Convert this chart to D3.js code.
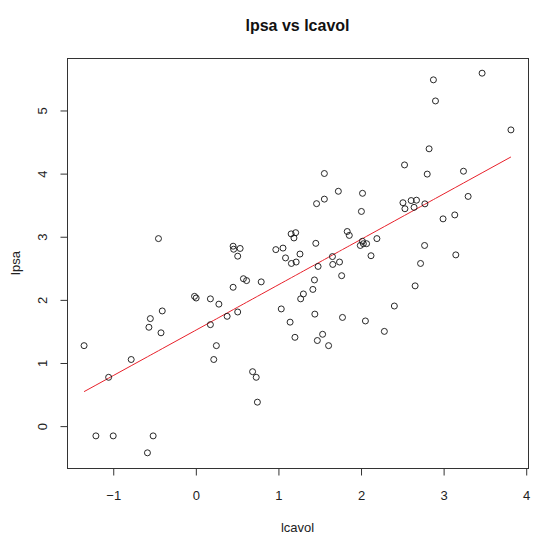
<!DOCTYPE html>
<html>
<head>
<meta charset="utf-8">
<script src="https://cdn.jsdelivr.net/npm/d3@7"></script>
<style>
  body { margin: 0; background: #fff; }
  svg { display: block; font-family: "Liberation Sans", Arial, sans-serif; }
</style>
</head>
<body>
<div id="chart"></div>
<script>
// prostate data: log cancer volume vs log PSA
var lcavol = [-0.5798185, -0.9942523, -0.5108256, -1.2039728, 0.7514161, -1.0498221, 0.7371641, 0.6931472,
  -0.7765288, 0.2231436, 0.2546422, -1.3470736, 1.6134299, 1.4770487, 1.2059708, 1.5411591, -0.4155154,
  2.2884862, -0.5621189, 0.1823216, 1.1474025, 2.0592388, -0.5447272, 1.7817406, 0.3852624, 1.4469190,
  0.5128236, -0.4004776, 1.0402767, 2.4096442, 0.2851789, 0.1823216, 1.2753628, 0.0099503, -0.0100503,
  1.3083328, 1.4231083, 0.4574248, 2.6609384, 0.7975072, 0.6205765, 1.4422817, 0.5822157, 1.7714984,
  1.4861397, 1.6639261, 2.7269180, 1.1631508, 1.7457155, 1.2208299, 1.0919233, 1.6601310, 0.5128236,
  2.1270408, 3.1535904, 1.2669476, 0.9745596, 0.4637340, 0.5423243, 1.0612565, 0.4574248, 1.9974177,
  2.7757088, 2.0347056, 2.0731719, 1.4586150, 2.0228712, 2.1983351, -0.4462871, 1.1939225, 1.8640801,
  1.1600209, 1.2149127, 1.8389611, 2.9992262, 3.1411305, 2.0108950, 2.5376572, 2.6483002, 2.7794402,
  1.4678743, 2.5136561, 2.6130067, 2.6775910, 1.5623463, 3.3028493, 2.0241931, 1.7316555, 2.8075938,
  1.5623463, 3.2464910, 2.5329028, 2.8302678, 3.8210131, 2.9074474, 2.8825636, 3.4719665];
var lpsa = [-0.4307829, -0.1625189, -0.1625189, -0.1625189, 0.3715636, 0.7654678, 0.7654678, 0.8544153,
  1.0473190, 1.0473190, 1.2669476, 1.2669476, 1.2669476, 1.3480731, 1.3987169, 1.4469190, 1.4701758,
  1.4929041, 1.5581446, 1.5993876, 1.6389967, 1.6582281, 1.6956156, 1.7137979, 1.7316555, 1.7664417,
  1.8000583, 1.8164521, 1.8484548, 1.8946169, 1.9242487, 2.0082140, 2.0082140, 2.0215476, 2.0476928,
  2.0856721, 2.1575593, 2.1916535, 2.2137539, 2.2772673, 2.2975726, 2.3075726, 2.3272777, 2.3749058,
  2.5217206, 2.5533438, 2.5687881, 2.5687881, 2.5915164, 2.5915164, 2.6567569, 2.6775910, 2.6844403,
  2.6912431, 2.7047113, 2.7180005, 2.7880929, 2.7942279, 2.8063861, 2.8124102, 2.8419982, 2.8535925,
  2.8535925, 2.8820035, 2.8820035, 2.8875901, 2.9204698, 2.9626924, 2.9626924, 2.9729753, 3.0130809,
  3.0373539, 3.0563569, 3.0750055, 3.2752562, 3.3375474, 3.3928291, 3.4355988, 3.4578927, 3.5130369,
  3.5160131, 3.5307626, 3.5652984, 3.5709402, 3.5876769, 3.6309855, 3.6800909, 3.7123518, 3.9843437,
  3.9936030, 4.0298060, 4.1295508, 4.3851468, 4.6844434, 5.1431245, 5.4775090, 5.5829322];
var xTicks = [-1, 0, 1, 2, 3, 4];
var yTicks = [0, 1, 2, 3, 4, 5];

var width = 560, height = 553;
var box = { left: 67, right: 528, top: 58, bottom: 468 };

var svg = d3.select('#chart').append('svg')
  .attr('width', width)
  .attr('height', height);

// R style ranges: data extent padded 4% each side
function pad(ext) {
  var d = (ext[1] - ext[0]) * 0.04;
  return [ext[0] - d, ext[1] + d];
}
var x = d3.scaleLinear().domain(pad(d3.extent(lcavol))).range([box.left, box.right]);
var y = d3.scaleLinear().domain(pad(d3.extent(lpsa))).range([box.bottom, box.top]);

var pts = lcavol.map(function(v, i) { return { x: v, y: lpsa[i] }; });

// least squares fit lpsa ~ lcavol
var mx = d3.mean(lcavol), my = d3.mean(lpsa);
var sxy = d3.sum(pts, function(d) { return (d.x - mx) * (d.y - my); });
var sxx = d3.sum(pts, function(d) { return (d.x - mx) * (d.x - mx); });
var slope = sxy / sxx, intercept = my - slope * mx;
var fitted = pts.slice().sort(function(a, b) { return a.x - b.x; })
  .map(function(d) { return { x: d.x, y: intercept + slope * d.x }; });

svg.append('rect')
  .attr('x', box.left + 0.5)
  .attr('y', box.top + 0.5)
  .attr('width', box.right - box.left)
  .attr('height', box.bottom - box.top)
  .attr('fill', 'none')
  .attr('stroke', '#333');

var xAxis = svg.append('g')
  .attr('transform', 'translate(0.5,' + (box.bottom + 0.5) + ')')
  .call(d3.axisBottom(x).tickValues(xTicks).tickSize(7).tickPadding(15).tickFormat(d3.format('d')));
xAxis.select('.domain').attr('d', 'M' + x(-1) + ',0H' + x(4));

var yAxis = svg.append('g')
  .attr('transform', 'translate(' + (box.left + 0.5) + ',0.5)')
  .call(d3.axisLeft(y).tickValues(yTicks).tickSize(7).tickFormat(d3.format('d')));
yAxis.select('.domain').attr('d', 'M0,' + y(0) + 'V' + y(5));
yAxis.selectAll('.tick text')
  .attr('x', null).attr('dy', null)
  .attr('transform', 'translate(-25,0) rotate(-90)')
  .attr('text-anchor', 'middle')
  .attr('dominant-baseline', 'central');

svg.selectAll('.tick line, .domain').attr('stroke', '#333');
svg.selectAll('.tick text')
  .attr('font-size', 13)
  .attr('fill', '#222')
  .attr('font-family', '"Liberation Sans", Arial, sans-serif');

svg.append('path')
  .datum(fitted)
  .attr('fill', 'none')
  .attr('stroke', '#e8202a')
  .attr('stroke-width', 1)
  .attr('d', d3.line().x(function(d) { return x(d.x); }).y(function(d) { return y(d.y); }));

svg.append('g').selectAll('circle')
  .data(pts)
  .enter()
  .append('circle')
  .attr('cx', function(d) { return x(d.x); })
  .attr('cy', function(d) { return y(d.y); })
  .attr('r', 3)
  .attr('fill', 'none')
  .attr('stroke', '#111')
  .attr('stroke-width', 0.9);

svg.append('text')
  .attr('x', (box.left + box.right) / 2)
  .attr('y', 31)
  .attr('text-anchor', 'middle')
  .attr('font-size', 16)
  .attr('font-weight', 'bold')
  .attr('fill', '#111')
  .text('lpsa vs lcavol');

svg.append('text')
  .attr('x', (box.left + box.right) / 2)
  .attr('y', 532)
  .attr('text-anchor', 'middle')
  .attr('font-size', 13)
  .attr('fill', '#222')
  .text('lcavol');

svg.append('text')
  .attr('transform', 'translate(15,' + ((box.top + box.bottom) / 2) + ') rotate(-90)')
  .attr('text-anchor', 'middle')
  .attr('dominant-baseline', 'central')
  .attr('font-size', 13)
  .attr('fill', '#222')
  .text('lpsa');
</script>
</body>
</html>
